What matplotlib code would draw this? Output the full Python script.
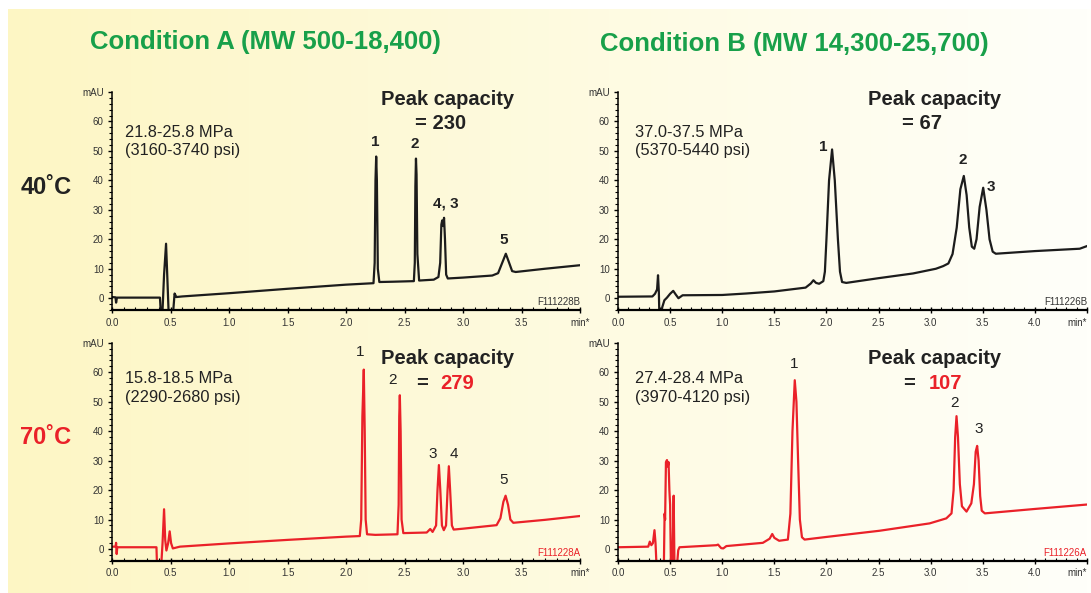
import numpy as np
import matplotlib.pyplot as plt
from matplotlib.ticker import MultipleLocator

plt.rcParams["font.family"] = ["Liberation Sans", "DejaVu Sans"]


# ==========================================================
# Data (time in min, signal in mAU)
# ==========================================================

conditions = ["Condition A (MW 500-18,400)", "Condition B (MW 14,300-25,700)"]
temperatures = ["40˚C", "70˚C"]

pressures = [
    ["21.8-25.8 MPa\n(3160-3740 psi)", "37.0-37.5 MPa\n(5370-5440 psi)"],
    ["15.8-18.5 MPa\n(2290-2680 psi)", "27.4-28.4 MPa\n(3970-4120 psi)"],
]
peak_capacity = [["230", "67"], ["279", "107"]]
file_codes = [["F111228B", "F111226B"], ["F111228A", "F111226A"]]

# Condition A, 40 C
t_a40 = [0.00, 0.03, 0.035, 0.042, 0.41, 0.418, 0.43, 0.445, 0.462, 0.472,
         0.485, 0.52, 0.535, 0.55, 0.60, 1.0, 1.5, 2.0, 2.235, 2.245, 2.252,
         2.258, 2.264, 2.272, 2.285, 2.40, 2.58, 2.588, 2.593, 2.598, 2.603,
         2.61, 2.625, 2.75, 2.79, 2.805, 2.815, 2.822, 2.83, 2.838, 2.846,
         2.856, 2.87, 3.0, 3.25, 3.30, 3.335, 3.366, 3.39, 3.42, 3.45, 3.7, 4.0]
mau_a40 = [0.4, 0.3, -1.5, 0.2, 0.2, -6, -6, 8, 18.5, 8,
           -6, -6, 1.6, 0.4, 0.6, 1.7, 3.2, 4.6, 5.1, 12, 40,
           48.1, 40, 10, 5.5, 5.6, 5.8, 12, 38, 47.4, 42,
           15, 6.0, 6.3, 7.2, 12, 25, 26.4, 24.5, 27.3, 20,
           8, 6.7, 7.0, 7.7, 8.5, 12, 15.1, 12.5, 9.2, 8.9, 10.0, 11.2]

# Condition B, 40 C
t_b40 = [0.0, 0.33, 0.355, 0.375, 0.384, 0.392, 0.397, 0.41, 0.425, 0.445,
         0.47, 0.50, 0.53, 0.555, 0.58, 0.62, 1.0, 1.23, 1.5, 1.80, 1.85,
         1.875, 1.90, 1.93, 1.97, 1.985, 2.0, 2.025, 2.054, 2.08, 2.11,
         2.13, 2.15, 2.19, 2.5, 2.83, 3.05, 3.12, 3.17, 3.21, 3.25, 3.285,
         3.318, 3.345, 3.37, 3.395, 3.418, 3.44, 3.47, 3.504, 3.535, 3.565,
         3.595, 3.625, 4.0, 4.43, 4.5]
mau_b40 = [0.5, 0.6, 1.5, 3.0, 7.8, 2, -6, -6, -3, -0.7,
           0.2, 1.5, 2.5, 1.2, 0.0, 1.0, 1.1, 1.6, 2.3, 3.6, 5.0,
           6.1, 5.2, 4.9, 5.8, 9, 20, 40, 50.5, 40, 20,
           9, 5.5, 5.2, 6.8, 8.4, 10.0, 10.9, 11.8, 15, 24, 37,
           41.5, 35, 24, 17.5, 16.8, 20, 31, 37.5, 30, 20,
           15.8, 15.1, 16.0, 16.8, 17.7]

# Condition A, 70 C
t_a70 = [0.0, 0.03, 0.035, 0.04, 0.045, 0.38, 0.385, 0.42, 0.432, 0.445,
         0.455, 0.465, 0.48, 0.493, 0.505, 0.52, 0.58, 1.0, 1.5, 2.0, 2.118,
         2.13, 2.14, 2.152, 2.16, 2.168, 2.18, 2.25, 2.44, 2.45, 2.455, 2.46,
         2.467, 2.475, 2.49, 2.69, 2.72, 2.74, 2.77, 2.782, 2.794, 2.806,
         2.82, 2.836, 2.855, 2.868, 2.879, 2.89, 2.905, 2.92, 3.0, 3.287,
         3.32, 3.345, 3.364, 3.385, 3.405, 3.43, 3.7, 4.0]
mau_a70 = [0.8, 0.8, 2.1, -1.7, 0.6, 0.6, -6, -6, 2, 13.5,
           3, -0.5, 2, 6.0, 2, 0.2, 0.8, 1.9, 3.1, 4.2, 4.4,
           10, 45, 60.9, 40, 10, 5.0, 4.8, 5.0, 15, 45, 52.2,
           40, 10, 5.4, 5.6, 6.8, 5.8, 8, 20, 28.5, 20,
           8, 6.4, 8, 20, 28.1, 20, 8, 6.6, 6.9, 8.1,
           10.5, 16, 18.1, 15, 10, 8.9, 9.9, 11.2]

# Condition B, 70 C
t_b70 = [0.0, 0.29, 0.305, 0.32, 0.335, 0.35, 0.36, 0.37, 0.44, 0.447,
         0.452, 0.46, 0.47, 0.478, 0.485, 0.493, 0.50, 0.508, 0.522, 0.534,
         0.542, 0.565, 0.578, 0.59, 0.944, 0.96, 0.99, 1.01, 1.04, 1.39,
         1.455, 1.48, 1.50, 1.546, 1.63, 1.654, 1.674, 1.696, 1.712, 1.728,
         1.745, 1.765, 1.79, 2.0, 2.51, 2.99, 3.15, 3.2, 3.22, 3.235, 3.248,
         3.262, 3.28, 3.30, 3.344, 3.39, 3.415, 3.432, 3.446, 3.46, 3.475,
         3.49, 3.52, 4.0, 4.5]
mau_b70 = [0.6, 0.8, 2.5, 1.3, 2, 6.4, 2, -6, -6, 12,
           10, 29.5, 30.2, 28, 29.5, 20, 15, -6, -6, 18.1,
           -6, -6, -0.4, 0.6, 1.3, 1.5, 0.3, 0.2, 1.0, 2.1,
           3.5, 5.1, 3.8, 2.8, 3.2, 12, 40, 57.3, 50, 30,
           10, 4, 3.2, 4.1, 6.2, 8.7, 10.4, 12.1, 20, 38, 45.1,
           38, 22, 14.5, 12.7, 15.5, 22, 33, 35.0, 30, 18,
           13, 12.1, 13.6, 15.1]

peaks_a40 = ["1", "2", "4, 3", "5"]
peaks_b40 = ["1", "2", "3"]
peaks_a70 = ["1", "2", "3", "4", "5"]
peaks_b70 = ["1", "2", "3"]


# ==========================================================
# Style
# ==========================================================

BLACK = "#1c1c1c"
RED = "#ea2129"
GREEN = "#18a04a"
TEXT = "#222222"

W, H = 1091, 593


def ax_rect(left_px, bottom_px, width_px, height_px=218):
    return [left_px / W, (H - bottom_px) / H, width_px / W, height_px / H]


def draw_panel(ax, t, mau, color, xmax, code, peak_names, peak_pos,
               bold_peaks, last_label_ha="center"):

    ax.set_facecolor("none")

    ax.plot(t, mau, color=color, linewidth=1.6, solid_joinstyle="round")

    ax.set_xlim(0, xmax)
    ax.set_ylim(-4, 70)

    for side in ["top", "right"]:
        ax.spines[side].set_visible(False)
    ax.spines["bottom"].set_linewidth(1.6)
    ax.spines["left"].set_linewidth(1.1)

    xt = np.arange(0, xmax + 0.01, 0.5)
    ax.set_xticks(xt)
    ax.set_xticklabels([f"{v:.1f}" for v in xt[:-1]] + ["min*"])
    ax.get_xticklabels()[-1].set_horizontalalignment(last_label_ha)
    ax.xaxis.set_minor_locator(MultipleLocator(0.1))

    yt = [0, 10, 20, 30, 40, 50, 60, 70]
    ax.set_yticks(yt)
    ax.set_yticklabels(["0", "10", "20", "30", "40", "50", "60", "mAU"])
    ax.yaxis.set_minor_locator(MultipleLocator(2))

    ax.tick_params(axis="x", which="major", direction="inout", length=5,
                   width=1, labelsize=7, pad=3, labelcolor="#333333")
    ax.tick_params(axis="x", which="minor", direction="in", length=2.5, width=0.8)
    ax.tick_params(axis="y", which="major", direction="out", length=3,
                   width=1, labelsize=7, pad=3, labelcolor="#333333")
    ax.tick_params(axis="y", which="minor", direction="out", length=2, width=0.8)

    ax.text(xmax, -1.2, code, ha="right", va="center", fontsize=7,
            color="#333333" if color == BLACK else color)

    for name, (px, py) in zip(peak_names, peak_pos):
        ax.text(px, py, name, ha="center", va="center", fontsize=11,
                fontweight="bold" if bold_peaks else "normal", color=TEXT)


# ==========================================================
# Figure
# ==========================================================

fig = plt.figure(figsize=(W / 100, H / 100), dpi=100)

bg = fig.add_axes([8 / W, 0, 1 - 8 / W, (H - 9) / H], zorder=-10)
grad = np.linspace(0, 1, 256)
left_c = np.array([253, 246, 196]) / 255
right_c = np.array([255, 255, 250]) / 255
img = left_c[None, :] * (1 - grad[:, None]) + right_c[None, :] * grad[:, None]
bg.imshow(img[None, :, :], aspect="auto", extent=[0, 1, 0, 1])
bg.axis("off")

ax_tl = fig.add_axes(ax_rect(112, 310, 468))
ax_tr = fig.add_axes(ax_rect(618, 310, 469))
ax_bl = fig.add_axes(ax_rect(112, 560.8, 468))
ax_br = fig.add_axes(ax_rect(618, 560.8, 469))

draw_panel(ax_tl, t_a40, mau_a40, BLACK, 4.0, file_codes[0][0], peaks_a40,
           [(2.25, 52.9), (2.59, 52.5), (2.855, 32.2), (3.35, 19.7)], True)
draw_panel(ax_tr, t_b40, mau_b40, BLACK, 4.5, file_codes[0][1], peaks_b40,
           [(1.97, 51.3), (3.31, 46.8), (3.58, 37.7)], True, "right")
draw_panel(ax_bl, t_a70, mau_a70, RED, 4.0, file_codes[1][0], peaks_a70,
           [(2.12, 66.9), (2.40, 57.3), (2.745, 32.4), (2.92, 32.2), (3.35, 23.4)],
           False)
draw_panel(ax_br, t_b70, mau_b70, RED, 4.5, file_codes[1][1], peaks_b70,
           [(1.69, 62.9), (3.23, 49.4), (3.46, 40.7)], False, "right")

# pressure notes
for ax, txt, x0 in [(ax_tl, pressures[0][0], 0.11), (ax_tr, pressures[0][1], 0.16)]:
    ax.text(x0, 53.3, txt, ha="left", va="center", fontsize=11.8,
            color=TEXT, linespacing=1.25)
for ax, txt, x0 in [(ax_bl, pressures[1][0], 0.11), (ax_br, pressures[1][1], 0.16)]:
    ax.text(x0, 54.6, txt, ha="left", va="center", fontsize=11.8,
            color=TEXT, linespacing=1.35)

# peak capacity
pc_kw = dict(ha="center", va="center", fontsize=14.5, fontweight="bold")

ax_tl.text(2.87, 67.5, "Peak capacity", color=TEXT, **pc_kw)
ax_tl.text(2.81, 59.3, "= " + peak_capacity[0][0], color=TEXT, **pc_kw)

ax_tr.text(3.04, 67.5, "Peak capacity", color=TEXT, **pc_kw)
ax_tr.text(2.92, 59.3, "= " + peak_capacity[0][1], color=TEXT, **pc_kw)

ax_bl.text(2.87, 64.6, "Peak capacity", color=TEXT, **pc_kw)
ax_bl.text(2.65, 56.2, "=", color=TEXT, **pc_kw)
ax_bl.text(2.95, 56.2, peak_capacity[1][0], color=RED, **pc_kw)

ax_br.text(3.04, 64.6, "Peak capacity", color=TEXT, **pc_kw)
ax_br.text(2.79, 56.2, "=", color=TEXT, **pc_kw)
ax_br.text(3.14, 56.2, peak_capacity[1][1], color=RED, **pc_kw)

# headers
fig.text(265 / W, 1 - 42 / H, conditions[0], ha="center", va="center",
         fontsize=18.5, fontweight="bold", color=GREEN)
fig.text(794 / W, 1 - 44 / H, conditions[1], ha="center", va="center",
         fontsize=18.5, fontweight="bold", color=GREEN)

fig.text(46 / W, 1 - 188 / H, temperatures[0], ha="center", va="center",
         fontsize=17, fontweight="bold", color=TEXT)
fig.text(46 / W, 1 - 437 / H, temperatures[1], ha="center", va="center",
         fontsize=17, fontweight="bold", color=RED)

fig.savefig("out.png", dpi=100)
plt.close(fig)
